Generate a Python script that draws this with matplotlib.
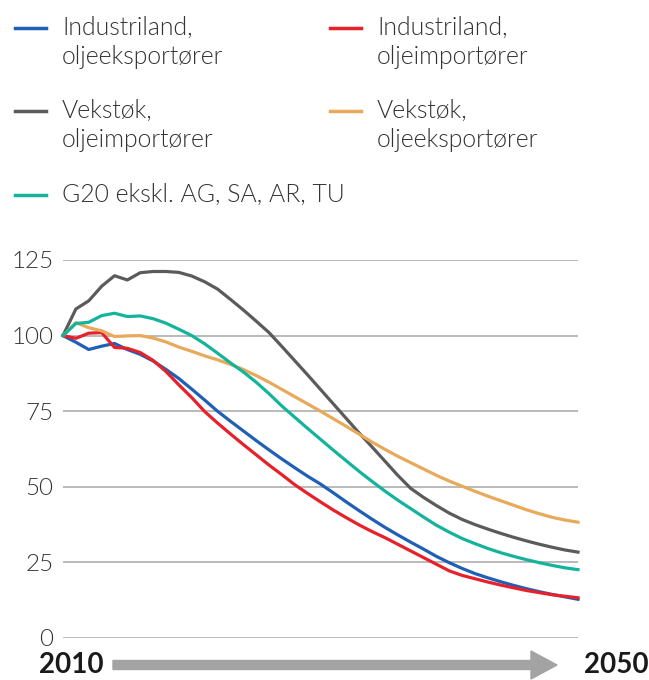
import numpy as np
import matplotlib
matplotlib.use("Agg")
import matplotlib.pyplot as plt
from matplotlib.lines import Line2D
from matplotlib.patches import FancyArrow

plt.rcParams['font.family'] = ['Lato', 'DejaVu Sans']

# Data (index, 2010 = 100)
years = np.arange(2010, 2051)

ind_eksport = [100, 97.8, 95.4, 96.5, 97.4, 95.4, 93.8, 91.6, 88.8, 85.8,
               82.3, 78.7, 75.0, 71.7, 68.5, 65.3, 62.2, 59.2, 56.3, 53.5,
               50.9, 48.0, 45.0, 42.1, 39.3, 36.6, 34.1, 31.7, 29.4, 27.0,
               24.9, 23.0, 21.3, 19.9, 18.6, 17.4, 16.3, 15.3, 14.4, 13.6, 12.8]

ind_import = [100, 99.1, 100.8, 101.0, 96.1, 95.8, 94.4, 91.8, 88.1, 83.7,
              79.5, 74.9, 71.1, 67.5, 64.0, 60.6, 57.2, 54.0, 50.7, 47.8,
              45.0, 42.3, 39.8, 37.4, 35.2, 33.2, 31.0, 28.8, 26.6, 24.4,
              22.2, 20.7, 19.6, 18.5, 17.5, 16.6, 15.7, 15.0, 14.3, 13.8, 13.3]

vekst_import = [100, 108.8, 111.5, 116.3, 119.8, 118.4, 120.8, 121.2, 121.2, 120.9,
                119.7, 117.8, 115.4, 112.0, 108.5, 104.8, 101.0, 96.4, 91.7, 87.0,
                82.2, 77.4, 72.6, 67.8, 63.2, 58.5, 53.8, 49.5, 46.5, 43.8,
                41.3, 39.2, 37.5, 36.0, 34.6, 33.3, 32.1, 31.0, 30.0, 29.1, 28.4]

vekst_eksport = [100, 104.3, 102.6, 101.6, 99.7, 99.9, 100.0, 99.2, 97.9, 96.2,
                 94.8, 93.3, 92.0, 90.5, 88.8, 86.8, 84.6, 82.2, 79.8, 77.4,
                 75.0, 72.5, 70.0, 67.4, 64.8, 62.4, 60.1, 58.0, 55.9, 53.8,
                 51.9, 50.2, 48.5, 46.9, 45.4, 43.9, 42.4, 41.1, 39.9, 39.0, 38.3]

g20 = [100, 104.0, 104.4, 106.6, 107.4, 106.3, 106.5, 105.6, 104.1, 102.1,
       100.0, 97.3, 94.2, 91.0, 88.0, 84.6, 80.8, 76.7, 73.0, 69.3,
       65.7, 62.1, 58.6, 55.1, 51.8, 48.6, 45.6, 42.8, 40.0, 37.3,
       35.0, 32.9, 31.2, 29.6, 28.2, 27.0, 25.9, 24.9, 24.0, 23.2, 22.6]

series = [
    (ind_eksport, "#1f5fb5", "Industriland,\noljeeksportører"),
    (ind_import, "#e8202a", "Industriland,\noljeimportører"),
    (vekst_import, "#5b5b5b", "Vekstøk,\noljeimportører"),
    (vekst_eksport, "#e8a95b", "Vekstøk,\noljeeksportører"),
    (g20, "#14b39b", "G20 ekskl. AG, SA, AR, TU"),
]

W, H = 649, 680
fig = plt.figure(figsize=(W / 100, H / 100), dpi=100)
ax = fig.add_axes([63 / W, (H - 638) / H, 515 / W, 378 / H])

for vals, col, lab in series:
    ax.plot(years, vals, color=col, lw=2.3, clip_on=False, zorder=3)

ax.set_xlim(2010, 2050)
ax.set_ylim(0, 125)
ax.set_yticks([0, 25, 50, 75, 100, 125])
ax.set_xticks([])
ax.grid(axis='y', color='#b4b4b4', lw=1.3)
ax.tick_params(axis='y', length=0, pad=7, labelsize=17.5, labelcolor='#333333')
for lbl in ax.get_yticklabels():
    lbl.set_fontweight(300)
for s in ax.spines.values():
    s.set_visible(False)

# legend, drawn by hand in pixel positions
leg_pos = [(15, 28, 62), (330, 28, 377), (15, 111, 62), (330, 111, 377), (15, 195, 62)]
for (vals, col, lab), (lx, ly, tx) in zip(series, leg_pos):
    fig.add_artist(Line2D([lx / W, (lx + 31) / W], [1 - ly / H, 1 - ly / H],
                          color=col, lw=2.5, transform=fig.transFigure))
    fig.text(tx / W, 1 - (ly - 12) / H, lab, ha='left', va='top', fontsize=17.8,
             fontweight=300, color='#333333', linespacing=1.25)

# time arrow at the bottom
fig.add_artist(FancyArrow(113 / W, 1 - 665 / H, 444 / W, 0, width=9 / H,
                          head_width=28 / H, head_length=26 / W,
                          length_includes_head=True, color='#a3a3a3',
                          transform=fig.transFigure))
fig.text(71 / W, 1 - 665 / H, "2010", ha='center', va='center', fontsize=20,
         fontweight='bold', color='#1a1a1a')
fig.text(616 / W, 1 - 665 / H, "2050", ha='center', va='center', fontsize=20,
         fontweight='bold', color='#1a1a1a')

fig.savefig("out.png", dpi=100)
